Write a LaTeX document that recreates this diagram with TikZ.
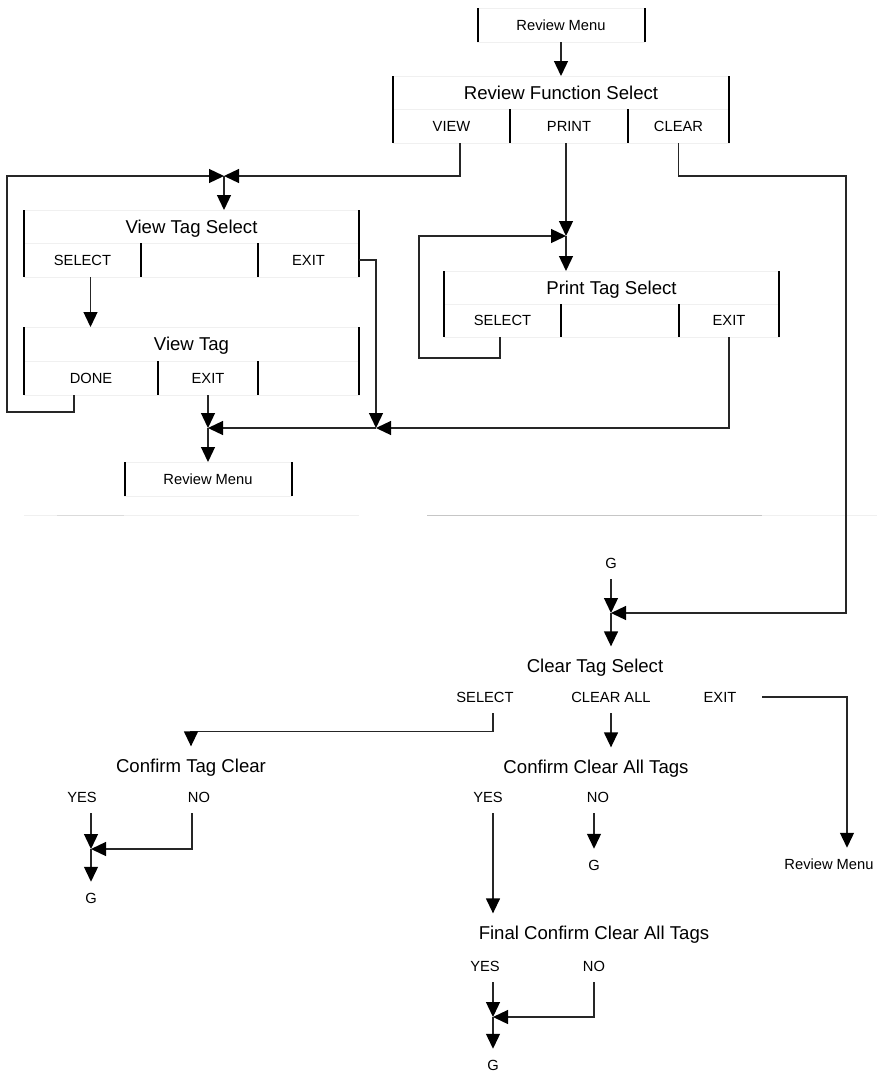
\documentclass[tikz,border=0pt]{standalone}
\usepackage{fontspec}
\setmainfont{Liberation Sans}
\usetikzlibrary{arrows.meta,calc}
\begin{document}
\begin{tikzpicture}[x=1pt,y=-1pt,
 sm/.style={font=\fontsize{14.7}{17}\selectfont},
 bg/.style={font=\fontsize{18.6}{22}\selectfont},
 cell/.style={draw=gray!12, line width=0.8pt, inner sep=0pt, outer sep=0pt, anchor=center},
 smcell/.style={cell, sm, text height=10.5pt, text depth=0pt},
 bgcell/.style={cell, bg, text height=13.3pt, text depth=0pt},
 side/.style={line width=2pt, black},
 conn/.style={line width=1.3pt, draw=black!85},
 arr/.style={conn, -{Triangle[length=15pt,width=14pt,color=black]}},
 lbl/.style={inner sep=0pt, outer xsep=0pt, outer ysep=11pt, text height=10.5pt, text depth=0pt, sm},
 blbl/.style={inner sep=0pt, outer xsep=0pt, outer ysep=13pt, text height=13.3pt, text depth=0pt, bg},
]
\useasboundingbox (0,0) rectangle (877,1074);

% faint separator lines
\draw[gray!12, line width=1pt] (24,515) -- (359,515);
\draw[gray!28, line width=1pt] (57,515) -- (124,515);
\draw[gray!45, line width=1pt] (427,515) -- (762,515);
\draw[gray!12, line width=1pt] (762,515) -- (877,515);

% top Review Menu
\node[smcell, minimum width=167pt, minimum height=34pt] (rm1) at (561,25) {Review Menu};
\draw[side] (rm1.north west) -- (rm1.south west);
\draw[side] (rm1.north east) -- (rm1.south east);

% Review Function Select
\node[bgcell, minimum width=336pt, minimum height=33pt] (rfsT) at (561,92.5) {Review Function Select};
\node[smcell, minimum width=117pt, minimum height=34pt] (rfsV) at (451.5,126) {VIEW};
\node[smcell, minimum width=118pt, minimum height=34pt] (rfsP) at (569,126) {PRINT};
\node[smcell, minimum width=101pt, minimum height=34pt] (rfsC) at (678.5,126) {CLEAR};
\draw[side] (rfsT.north west) -- (rfsV.south west);
\draw[side] (rfsT.north east) -- (rfsC.south east);
\draw[side] (rfsP.north west) -- (rfsP.south west);
\draw[side] (rfsP.north east) -- (rfsP.south east);

% View Tag Select
\node[bgcell, minimum width=335pt, minimum height=33pt] (vtsT) at (191.5,226.5) {View Tag Select};
\node[smcell, minimum width=117pt, minimum height=34pt] (vtsS) at (82.5,260) {SELECT};
\node[smcell, minimum width=117pt, minimum height=34pt] (vtsM) at (199.5,260) {};
\node[smcell, minimum width=101pt, minimum height=34pt] (vtsE) at (308.5,260) {EXIT};
\draw[side] (vtsT.north west) -- (vtsS.south west);
\draw[side] (vtsT.north east) -- (vtsE.south east);
\draw[side] (vtsM.north west) -- (vtsM.south west);
\draw[side] (vtsM.north east) -- (vtsM.south east);

% View Tag
\node[bgcell, minimum width=335pt, minimum height=34pt] (vtT) at (191.5,344) {View Tag};
\node[smcell, minimum width=134pt, minimum height=34pt] (vtD) at (91,378) {DONE};
\node[smcell, minimum width=100pt, minimum height=34pt] (vtE) at (208,378) {EXIT};
\node[smcell, minimum width=101pt, minimum height=34pt] (vtM) at (308.5,378) {};
\draw[side] (vtT.north west) -- (vtD.south west);
\draw[side] (vtT.north east) -- (vtM.south east);
\draw[side] (vtE.north west) -- (vtE.south west);
\draw[side] (vtE.north east) -- (vtE.south east);

% bottom-left Review Menu
\node[smcell, minimum width=167pt, minimum height=34pt] (rm2) at (208,479) {Review Menu};
\draw[side] (rm2.north west) -- (rm2.south west);
\draw[side] (rm2.north east) -- (rm2.south east);

% Print Tag Select
\node[bgcell, minimum width=335pt, minimum height=33pt] (ptsT) at (611.5,287.5) {Print Tag Select};
\node[smcell, minimum width=117pt, minimum height=33pt] (ptsS) at (502.5,320.5) {SELECT};
\node[smcell, minimum width=118pt, minimum height=33pt] (ptsM) at (620,320.5) {};
\node[smcell, minimum width=100pt, minimum height=33pt] (ptsE) at (729,320.5) {EXIT};
\draw[side] (ptsT.north west) -- (ptsS.south west);
\draw[side] (ptsT.north east) -- (ptsE.south east);
\draw[side] (ptsM.north west) -- (ptsM.south west);
\draw[side] (ptsM.north east) -- (ptsM.south east);

% Clear section labels
\node[lbl] (G1) at (611,563) {G};
\node[blbl] (cts) at (595,666) {Clear Tag Select};
\node[lbl] (ctsS) at (485,697) {SELECT};
\node[lbl] (ctsA) at (611,697) {CLEAR ALL};
\node[lbl] (ctsX) at (720,697) {EXIT};
\node[blbl] (ctc) at (191,766) {Confirm Tag Clear};
\node[lbl] (ctcY) at (82,797) {YES};
\node[lbl] (ctcN) at (199,797) {NO};
\node[lbl] (G2) at (91,898) {G};
\node[blbl] (cca) at (596,767) {Confirm Clear All Tags};
\node[lbl] (ccaY) at (488,797) {YES};
\node[lbl] (ccaN) at (598,797) {NO};
\node[lbl] (G3) at (594,865) {G};
\node[lbl] (rm3) at (829,864) {Review Menu};
\node[blbl] (fca) at (594,933) {Final Confirm Clear All Tags};
\node[lbl] (fcaY) at (485,966) {YES};
\node[lbl] (fcaN) at (594,966) {NO};
\node[lbl] (G4) at (493,1065) {G};

% junctions and corners
\coordinate (j1) at (224,176);
\coordinate (j2) at (208,428);
\coordinate (j3) at (376,428);
\coordinate (j4) at (566,236);
\coordinate (j5) at (611,613);
\coordinate (j6) at (91,849);
\coordinate (j7) at (493,1017);
\coordinate (lp1) at (7,412);
\coordinate (lp2) at (419,358);
\coordinate (lp3) at (846,176);

% connectors - top part
\draw[arr] (rm1.south) -- (rfsT.north);
\draw[arr] ([xshift=8.5pt]rfsV.south) |- (j1);
\draw[arr] ([xshift=-17pt]vtD.south) |- (lp1) |- (j1);
\draw[arr] (j1) -- (j1 |- vtsT.north);
\draw[arr] ([xshift=8pt]vtsS.south) coordinate (s1) -- (s1 |- vtT.north);
\draw[arr] (vtE.south) -- (j2);
\draw[arr] (vtsE.east) -| (j3);
\draw[arr] (ptsE.south) |- (j3);
\draw[arr] (j3) -- (j2);
\draw[arr] (j2) -- (rm2.north);
\draw[arr] ([xshift=-3pt]rfsP.south) -- (j4);
\draw[arr] ([xshift=-2.5pt]ptsS.south) |- (lp2) |- (j4);
\draw[arr] (j4) -- (j4 |- ptsT.north);
\draw[arr] (rfsC.south) |- (lp3) |- (j5);

% connectors - clear part
\draw[arr] (G1.south) -- (j5);
\draw[arr] (j5) -- (j5 |- cts.north);
\draw[arr] ([xshift=8pt]ctsS.south) -- ++(0,18) -| (ctc.north);
\draw[arr] (ctsA.south) -- (ctsA.south |- cca.north);
\draw[arr] ([xshift=26pt]ctsX.east) -| ([xshift=18pt]rm3.north);
\draw[arr] ([xshift=9pt]ctcY.south) -- (j6);
\draw[arr] ([xshift=-7pt]ctcN.south) |- (j6);
\draw[arr] (j6) -- (G2.north);
\draw[arr] ([xshift=5pt]ccaY.south) coordinate (s2) -- (s2 |- fca.north);
\draw[arr] (ccaN.south -| G3) -- (G3.north);
\draw[arr] ([xshift=8pt]fcaY.south) -- (j7);
\draw[arr] (fcaN.south) |- (j7);
\draw[arr] (j7) -- (G4.north);
\end{tikzpicture}
\end{document}
